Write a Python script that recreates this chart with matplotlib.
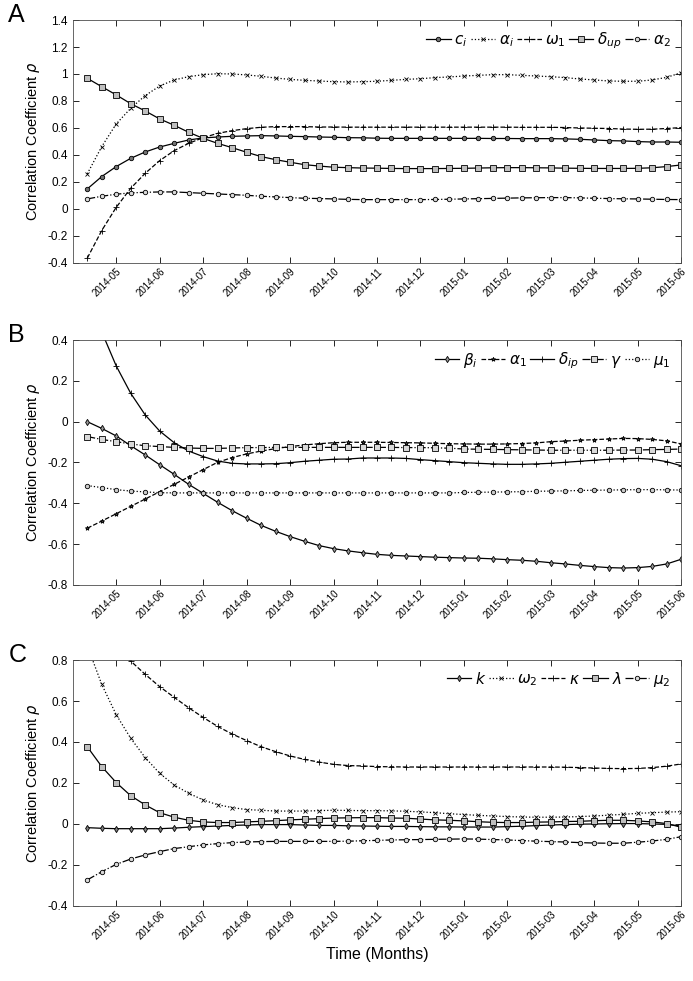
import numpy as np
import matplotlib
matplotlib.use("Agg")
import matplotlib.pyplot as plt
from matplotlib.ticker import FuncFormatter

plt.rcParams['font.family'] = ['Liberation Sans', 'DejaVu Sans']

# x positions: 3 samples per month, months counted from 2014-04
t = np.arange(1, 43) / 3.0
month_labels = ["2014-05", "2014-06", "2014-07", "2014-08", "2014-09", "2014-10", "2014-11",
                "2014-12", "2015-01", "2015-02", "2015-03", "2015-04", "2015-05", "2015-06"]

# Panel A
c_i = [0.148, 0.24, 0.314, 0.375, 0.422, 0.459, 0.486, 0.511, 0.526, 0.533,
       0.538, 0.541, 0.543, 0.541, 0.538, 0.536, 0.533, 0.531, 0.528, 0.527,
       0.524, 0.523, 0.523, 0.523, 0.523, 0.523, 0.523, 0.523, 0.522, 0.522,
       0.521, 0.521, 0.521, 0.519, 0.516, 0.511, 0.506, 0.504, 0.499, 0.496,
       0.496, 0.494]
alpha_i = [0.26, 0.462, 0.63, 0.746, 0.84, 0.911, 0.956, 0.98, 0.995, 1.002,
           1.0, 0.993, 0.983, 0.97, 0.96, 0.953, 0.948, 0.943, 0.941, 0.943,
           0.946, 0.953, 0.96, 0.965, 0.973, 0.978, 0.985, 0.99, 0.995, 0.995,
           0.99, 0.985, 0.98, 0.973, 0.963, 0.956, 0.948, 0.946, 0.946, 0.956,
           0.975, 1.01]
omega_1 = [-0.365, -0.16, 0.012, 0.153, 0.264, 0.358, 0.432, 0.486, 0.528, 0.56,
           0.58, 0.595, 0.605, 0.61, 0.61, 0.61, 0.607, 0.607, 0.606, 0.606,
           0.606, 0.606, 0.606, 0.606, 0.606, 0.606, 0.606, 0.606, 0.606, 0.606,
           0.605, 0.605, 0.605, 0.603, 0.6, 0.598, 0.596, 0.592, 0.59, 0.591,
           0.596, 0.603]
delta_up = [0.968, 0.906, 0.845, 0.78, 0.726, 0.667, 0.62, 0.568, 0.523, 0.486,
            0.454, 0.42, 0.388, 0.365, 0.346, 0.328, 0.318, 0.309, 0.306, 0.303,
            0.302, 0.3, 0.299, 0.299, 0.299, 0.3, 0.301, 0.303, 0.305, 0.306,
            0.306, 0.305, 0.304, 0.302, 0.301, 0.3, 0.3, 0.3, 0.301, 0.305,
            0.314, 0.326]
alpha_2 = [0.074, 0.094, 0.109, 0.119, 0.123, 0.126, 0.126, 0.121, 0.116, 0.111,
           0.106, 0.101, 0.094, 0.089, 0.084, 0.079, 0.077, 0.074, 0.071, 0.069,
           0.069, 0.069, 0.069, 0.069, 0.07, 0.072, 0.074, 0.076, 0.078, 0.08,
           0.082, 0.083, 0.084, 0.084, 0.082, 0.079, 0.077, 0.075, 0.074, 0.072,
           0.07, 0.069]

# Panel B
beta_i = [0.0, -0.033, -0.07, -0.118, -0.163, -0.211, -0.258, -0.307, -0.351, -0.395,
          -0.436, -0.473, -0.508, -0.537, -0.563, -0.586, -0.607, -0.622, -0.633, -0.642,
          -0.65, -0.655, -0.658, -0.661, -0.664, -0.666, -0.668, -0.669, -0.672, -0.676,
          -0.679, -0.684, -0.691, -0.697, -0.704, -0.71, -0.715, -0.717, -0.715, -0.709,
          -0.697, -0.674]
alpha_1 = [-0.522, -0.487, -0.451, -0.415, -0.379, -0.343, -0.307, -0.271, -0.235, -0.199,
           -0.176, -0.158, -0.144, -0.132, -0.122, -0.114, -0.108, -0.103, -0.101, -0.101,
           -0.101, -0.102, -0.103, -0.104, -0.106, -0.108, -0.109, -0.11, -0.11, -0.109,
           -0.107, -0.104, -0.098, -0.095, -0.091, -0.088, -0.085, -0.082, -0.083, -0.087,
           -0.094, -0.109]
delta_ip = [0.65, 0.44, 0.273, 0.139, 0.033, -0.046, -0.103, -0.144, -0.171, -0.193,
            -0.204, -0.207, -0.207, -0.206, -0.201, -0.194, -0.189, -0.184, -0.183, -0.178,
            -0.178, -0.178, -0.18, -0.186, -0.191, -0.196, -0.201, -0.204, -0.207, -0.209,
            -0.209, -0.207, -0.204, -0.199, -0.194, -0.189, -0.184, -0.181, -0.18, -0.184,
            -0.196, -0.216]
gamma = [-0.073, -0.087, -0.098, -0.109, -0.118, -0.122, -0.126, -0.129, -0.131, -0.131,
         -0.129, -0.127, -0.127, -0.126, -0.126, -0.126, -0.126, -0.126, -0.126, -0.126,
         -0.126, -0.126, -0.127, -0.127, -0.128, -0.13, -0.134, -0.135, -0.136, -0.137,
         -0.138, -0.139, -0.14, -0.14, -0.14, -0.14, -0.14, -0.139, -0.139, -0.137,
         -0.136, -0.134]
mu_1 = [-0.313, -0.323, -0.333, -0.34, -0.344, -0.348, -0.349, -0.349, -0.349, -0.349,
        -0.349, -0.349, -0.349, -0.349, -0.349, -0.349, -0.349, -0.349, -0.349, -0.349,
        -0.349, -0.349, -0.349, -0.349, -0.349, -0.349, -0.347, -0.346, -0.345, -0.344,
        -0.343, -0.341, -0.34, -0.339, -0.337, -0.336, -0.335, -0.334, -0.333, -0.333,
        -0.334, -0.335]

# Panel C
k = [-0.018, -0.021, -0.023, -0.023, -0.023, -0.023, -0.02, -0.016, -0.013, -0.01,
     -0.007, -0.005, -0.003, -0.003, -0.003, -0.005, -0.007, -0.007, -0.009, -0.01,
     -0.011, -0.012, -0.012, -0.013, -0.014, -0.014, -0.015, -0.015, -0.015, -0.013,
     -0.011, -0.008, -0.005, -0.003, -0.001, 0.0, 0.001, 0.002, 0.002, 0.0,
     -0.002, -0.01]
omega_2 = [0.87, 0.681, 0.533, 0.418, 0.324, 0.247, 0.19, 0.15, 0.117, 0.094,
           0.08, 0.07, 0.067, 0.063, 0.063, 0.063, 0.065, 0.067, 0.066, 0.065,
           0.065, 0.064, 0.062, 0.059, 0.055, 0.05, 0.046, 0.042, 0.039, 0.036,
           0.034, 0.033, 0.033, 0.034, 0.036, 0.039, 0.043, 0.047, 0.052, 0.055,
           0.058, 0.06]
kappa = [1.02, 0.94, 0.865, 0.795, 0.73, 0.67, 0.618, 0.567, 0.52, 0.476,
         0.439, 0.407, 0.377, 0.353, 0.332, 0.315, 0.302, 0.291, 0.285, 0.283,
         0.28, 0.279, 0.278, 0.278, 0.278, 0.278, 0.278, 0.278, 0.278, 0.278,
         0.278, 0.278, 0.278, 0.277, 0.275, 0.273, 0.271, 0.27, 0.271, 0.275,
         0.282, 0.293]
lam = [0.377, 0.28, 0.202, 0.138, 0.093, 0.055, 0.033, 0.018, 0.01, 0.007,
       0.007, 0.01, 0.013, 0.016, 0.02, 0.023, 0.026, 0.029, 0.03, 0.031,
       0.031, 0.029, 0.028, 0.024, 0.02, 0.018, 0.015, 0.011, 0.008, 0.007,
       0.007, 0.009, 0.01, 0.012, 0.013, 0.016, 0.018, 0.018, 0.015, 0.01,
       0.002, -0.016]
mu_2 = [-0.273, -0.233, -0.197, -0.171, -0.151, -0.135, -0.12, -0.111, -0.102, -0.096,
        -0.091, -0.088, -0.086, -0.085, -0.085, -0.085, -0.085, -0.085, -0.084, -0.082,
        -0.08, -0.078, -0.077, -0.076, -0.075, -0.074, -0.073, -0.074, -0.076, -0.078,
        -0.081, -0.084, -0.086, -0.088, -0.091, -0.093, -0.094, -0.094, -0.089, -0.083,
        -0.075, -0.062]

panels = [
    ("A", [0.105, 0.732, 0.878, 0.2476], (-0.4, 1.4), np.arange(-0.4, 1.41, 0.2), [
        (c_i, r"$c_i$", "-", "o", 3.2, "0.45"),
        (alpha_i, r"$\alpha_i$", ":", "x", 2.8, "none"),
        (omega_1, r"$\omega_1$", "--", "+", 4.5, "none"),
        (delta_up, r"$\delta_{up}$", "-", "s", 4.2, "0.75"),
        (alpha_2, r"$\alpha_2$", "-.", "o", 3.2, "0.85"),
    ]),
    ("B", [0.105, 0.4037, 0.878, 0.2497], (-0.8, 0.4), np.arange(-0.8, 0.41, 0.2), [
        (beta_i, r"$\beta_i$", "-", "d", 3.2, "0.6"),
        (alpha_1, r"$\alpha_1$", "--", "*", 3.2, "0.3"),
        (delta_ip, r"$\delta_{ip}$", "-", "+", 4.5, "none"),
        (gamma, r"$\gamma$", "-.", "s", 4.2, "0.85"),
        (mu_1, r"$\mu_1$", ":", "o", 3.2, "0.8"),
    ]),
    ("C", [0.105, 0.0765, 0.878, 0.2507], (-0.4, 0.8), np.arange(-0.4, 0.81, 0.2), [
        (k, r"$k$", "-", "d", 3.2, "0.5"),
        (omega_2, r"$\omega_2$", ":", "x", 2.8, "none"),
        (kappa, r"$\kappa$", "--", "+", 4.5, "none"),
        (lam, r"$\lambda$", "-", "s", 4.2, "0.75"),
        (mu_2, r"$\mu_2$", "-.", "o", 3.2, "0.85"),
    ]),
]

fig = plt.figure(figsize=(6.93, 9.81), dpi=100)

for letter, rect, ylim, yticks, series in panels:
    ax = fig.add_axes(rect)
    for vals, label, ls, mk, ms, mfc in series:
        ax.plot(t, vals, linestyle=ls, marker=mk, markersize=ms, color="black",
                markerfacecolor=mfc, markeredgecolor="black", markeredgewidth=0.6,
                linewidth=0.9, label=label)
    ax.set_xlim(0, 14)
    ax.set_ylim(*ylim)
    ax.set_yticks(yticks)
    ax.yaxis.set_major_formatter(FuncFormatter(lambda v, p: f"{round(v, 1) + 0.0:g}"))
    ax.set_xticks(np.arange(1, 15))
    ax.set_xticklabels(month_labels, rotation=45, ha="right", rotation_mode="anchor",
                       fontsize=7)
    ax.tick_params(axis="both", direction="in", top=True, right=True, length=4, width=0.6)
    ax.tick_params(axis="x", pad=2.5)
    ax.tick_params(axis="y", labelsize=8.5)
    for sp in ax.spines.values():
        sp.set_linewidth(0.6)
        sp.set_color("0.3")
    ax.set_ylabel(r"Correlation Coefficient $\rho$", fontsize=10.5, labelpad=4)
    ax.legend(loc="upper right", ncol=5, frameon=False, fontsize=11,
              handlelength=1.6, handletextpad=0.25, columnspacing=0.2,
              borderaxespad=0.3)
    fig.text(0.012, rect[1] + rect[3] + 0.005, letter, fontsize=18, va="center")

fig.text(0.545, 0.027, "Time (Months)", fontsize=11.5, ha="center", va="center")

fig.savefig("out.png", dpi=100)
